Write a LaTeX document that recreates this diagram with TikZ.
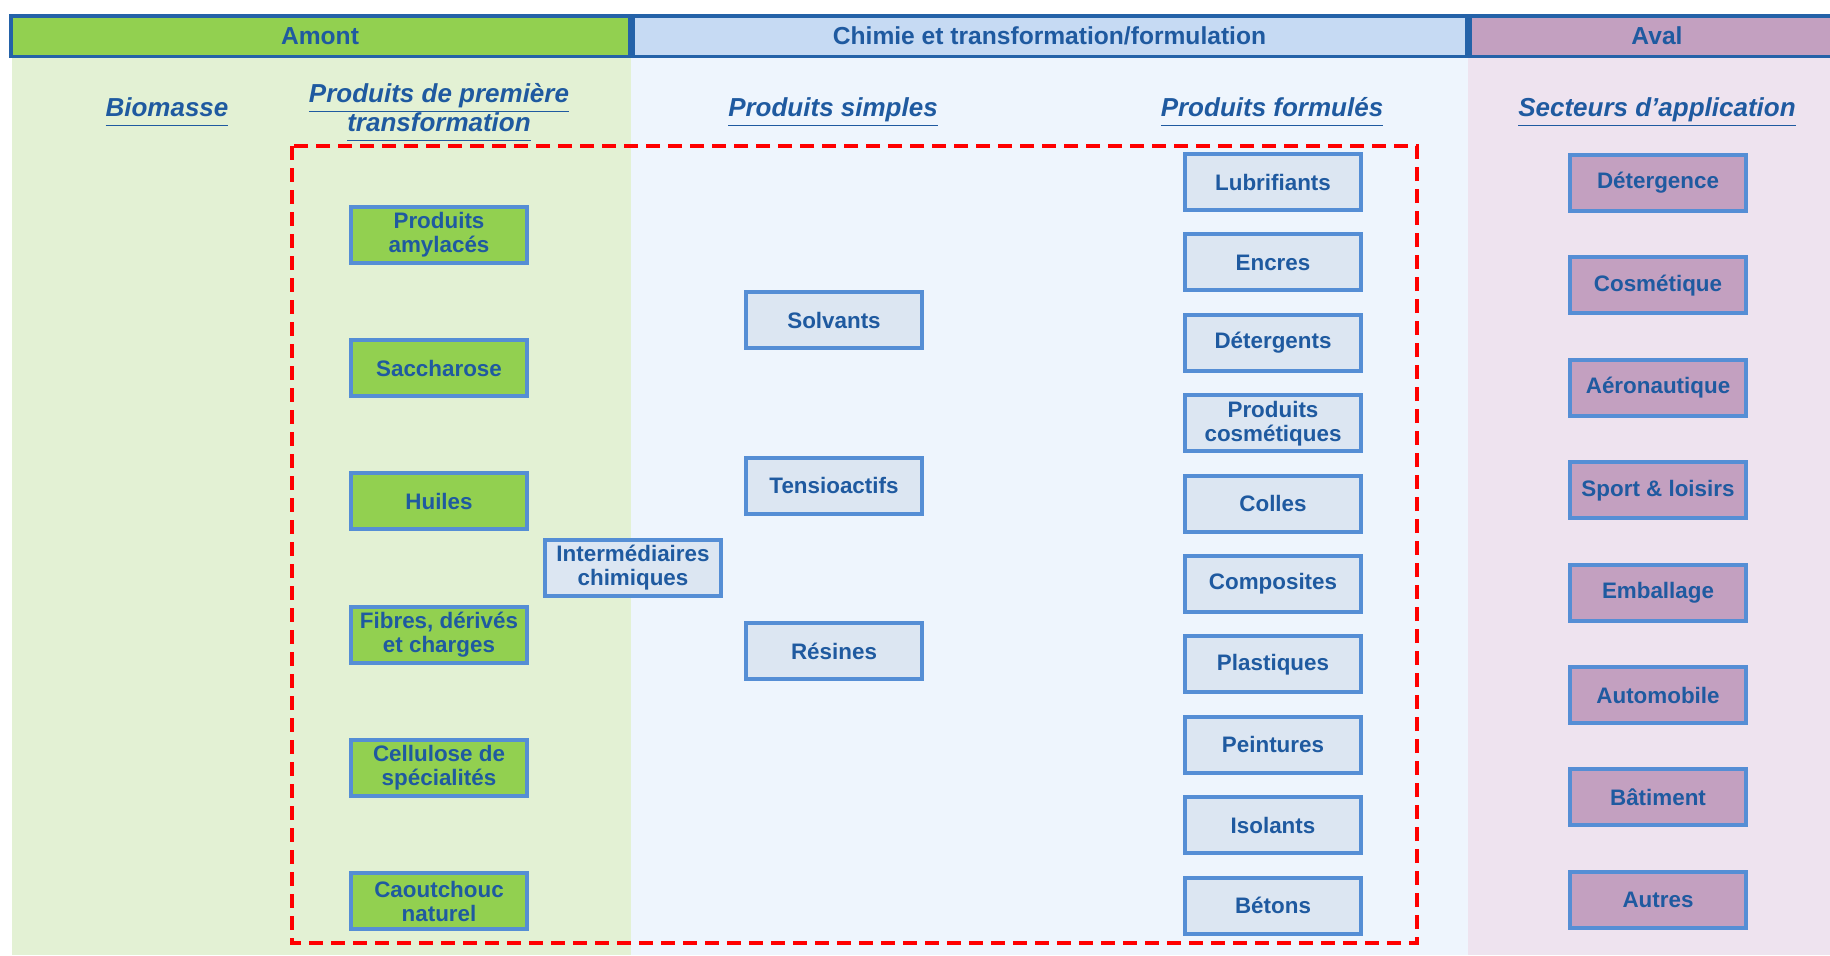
\documentclass[tikz,border=0pt]{standalone}
\usepackage{fontspec}
\setmainfont{Liberation Sans}
\usepackage{xcolor}
\usetikzlibrary{positioning}
\definecolor{txtblue}{HTML}{1F5AA0}
\definecolor{hdrline}{HTML}{2462A8}
\definecolor{boxline}{HTML}{558ED5}
\definecolor{hdrgreen}{HTML}{92D050}
\definecolor{hdrblue}{HTML}{C6DAF3}
\definecolor{hdrpurple}{HTML}{C3A0C0}
\definecolor{bggreen}{HTML}{E3F1D4}
\definecolor{bgblue}{HTML}{EEF5FD}
\definecolor{bgpurple}{HTML}{EEE3EF}
\definecolor{boxblue}{HTML}{DCE6F2}
\newcommand{\titleline}[1]{\underline{#1\vphantom{p}}}
\tikzset{box node/.style={rectangle,draw=boxline,line width=2pt,minimum width=88pt,minimum height=28pt,inner sep=1pt,align=center,text=txtblue,font=\bfseries\fontsize{11.2}{12}\selectfont},
            green node/.style={box node,fill=hdrgreen},
            blue node/.style={box node,fill=boxblue},
            purple node/.style={box node,fill=hdrpurple},
            head node/.style={rectangle,draw=hdrline,line width=1.75pt,minimum height=20.25pt,inner sep=0pt,text=txtblue,font=\bfseries\fontsize{12.3}{14}\selectfont},
            title node/.style={align=center,text=txtblue,font=\bfseries\itshape\fontsize{13}{14.5}\selectfont},
            frame line/.style={draw=red,line width=1.75pt,dash pattern=on 7pt off 4pt},
            }
\begin{document}
\begin{tikzpicture}[x=0.5pt,y=-0.5pt]
    \useasboundingbox (0,0) rectangle (1830,955);

    % column backgrounds
    \fill[bggreen] (12,58) rectangle (631,955);
    \fill[bgblue] (631,58) rectangle (1468,955);
    \fill[bgpurple] (1468,58) rectangle (1830,955);

    % header
    \node[head node,fill=hdrgreen,minimum width=309.25pt] (amont) at (320,36) {Amont};
    \node[head node,fill=hdrblue,minimum width=416.75pt] (chimie) at (1049.5,36) {Chimie et transformation/formulation};
    \node[head node,fill=hdrpurple,minimum width=187.25pt] (aval) at (1657,36) {Aval};

    % column titles
    \node[title node] (biomasse) at (167,112) {\titleline{Biomasse}};
    \node[title node] (premiere) at (439,112.5) {\titleline{Produits de première}\\\titleline{transformation}};
    \node[title node] (simples) at (833,112) {\titleline{Produits simples}};
    \node[title node] (formules) at (1272,112) {\titleline{Produits formulés}};
    \node[title node] (secteurs) at (1657,112) {\titleline{Secteurs d’application}};

    % dashed frame
    \draw[frame line] (292,146) rectangle (1417,943);

    % premiere transformation
    \node[green node] (g1) at (439,235) {Produits\\amylacés};
    \node[green node] (g2) [below = 36.6pt of g1] {Saccharose};
    \node[green node] (g3) [below = 36.6pt of g2] {Huiles};
    \node[green node] (g4) [below = 36.6pt of g3] {Fibres, dérivés\\et charges};
    \node[green node] (g5) [below = 36.6pt of g4] {Cellulose de\\spécialités};
    \node[green node] (g6) [below = 36.6pt of g5] {Caoutchouc\\naturel};

    \node[blue node] (inter) at (633,568) {Intermédiaires\\chimiques};

    % produits simples
    \node[blue node] (s1) at (834,320) {Solvants};
    \node[blue node] (s2) [below = 52.85pt of s1] {Tensioactifs};
    \node[blue node] (s3) [below = 52.85pt of s2] {Résines};

    % produits formules
    \node[blue node] (f1) at (1273,182) {Lubrifiants};
    \node[blue node] (f2) [below = 10.2pt of f1] {Encres};
    \node[blue node] (f3) [below = 10.2pt of f2] {Détergents};
    \node[blue node] (f4) [below = 10.2pt of f3] {Produits\\cosmétiques};
    \node[blue node] (f5) [below = 10.2pt of f4] {Colles};
    \node[blue node] (f6) [below = 10.2pt of f5] {Composites};
    \node[blue node] (f7) [below = 10.2pt of f6] {Plastiques};
    \node[blue node] (f8) [below = 10.2pt of f7] {Peintures};
    \node[blue node] (f9) [below = 10.2pt of f8] {Isolants};
    \node[blue node] (f10) [below = 10.2pt of f9] {Bétons};

    % secteurs
    \node[purple node] (a1) at (1658,183) {Détergence};
    \node[purple node] (a2) [below = 21.2pt of a1] {Cosmétique};
    \node[purple node] (a3) [below = 21.2pt of a2] {Aéronautique};
    \node[purple node] (a4) [below = 21.2pt of a3] {Sport \& loisirs};
    \node[purple node] (a5) [below = 21.2pt of a4] {Emballage};
    \node[purple node] (a6) [below = 21.2pt of a5] {Automobile};
    \node[purple node] (a7) [below = 21.2pt of a6] {Bâtiment};
    \node[purple node] (a8) [below = 21.2pt of a7] {Autres};

\end{tikzpicture}
\end{document}
